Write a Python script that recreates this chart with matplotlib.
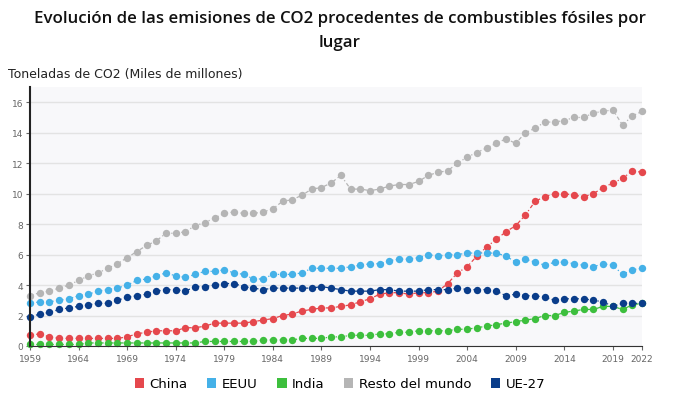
import numpy as np
import matplotlib
matplotlib.use("Agg")
import matplotlib.pyplot as plt
from matplotlib.patches import Patch

years = list(range(1959, 2023))

china = [0.7, 0.8, 0.6, 0.5, 0.5, 0.5, 0.5, 0.5, 0.5, 0.5,
         0.6, 0.8, 0.9, 1.0, 1.0, 1.0, 1.2, 1.2, 1.3, 1.5,
         1.5, 1.5, 1.5, 1.6, 1.7, 1.8, 2.0, 2.1, 2.3, 2.4,
         2.5, 2.5, 2.6, 2.7, 2.9, 3.1, 3.4, 3.5, 3.5, 3.4,
         3.5, 3.5, 3.6, 4.1, 4.8, 5.2, 5.9, 6.5, 7.0, 7.5,
         7.9, 8.6, 9.5, 9.8, 10.0, 10.0, 9.9, 9.8, 10.0, 10.4,
         10.7, 11.0, 11.5, 11.4]
eeuu = [2.8, 2.9, 2.9, 3.0, 3.1, 3.3, 3.4, 3.6, 3.7, 3.8,
        4.0, 4.3, 4.4, 4.6, 4.8, 4.6, 4.5, 4.7, 4.9, 4.9,
        5.0, 4.8, 4.7, 4.4, 4.4, 4.7, 4.7, 4.7, 4.8, 5.1,
        5.1, 5.1, 5.1, 5.2, 5.3, 5.4, 5.4, 5.6, 5.7, 5.7,
        5.8, 6.0, 5.9, 6.0, 6.0, 6.1, 6.1, 6.1, 6.1, 5.9,
        5.5, 5.7, 5.5, 5.3, 5.5, 5.5, 5.4, 5.3, 5.2, 5.4,
        5.3, 4.7, 5.0, 5.1]
india = [0.1, 0.1, 0.1, 0.1, 0.1, 0.1, 0.2, 0.2, 0.2, 0.2,
         0.2, 0.2, 0.2, 0.2, 0.2, 0.2, 0.2, 0.2, 0.3, 0.3,
         0.3, 0.3, 0.3, 0.3, 0.4, 0.4, 0.4, 0.4, 0.5, 0.5,
         0.5, 0.6, 0.6, 0.7, 0.7, 0.7, 0.8, 0.8, 0.9, 0.9,
         1.0, 1.0, 1.0, 1.0, 1.1, 1.1, 1.2, 1.3, 1.4, 1.5,
         1.6, 1.7, 1.8, 2.0, 2.0, 2.2, 2.3, 2.4, 2.4, 2.6,
         2.6, 2.4, 2.7, 2.8]
resto = [3.3, 3.5, 3.6, 3.8, 4.0, 4.3, 4.6, 4.8, 5.1, 5.4,
         5.8, 6.2, 6.6, 6.9, 7.4, 7.4, 7.5, 7.9, 8.1, 8.4,
         8.7, 8.8, 8.7, 8.7, 8.8, 9.0, 9.5, 9.6, 9.9, 10.3,
         10.4, 10.7, 11.2, 10.3, 10.3, 10.2, 10.3, 10.5, 10.6, 10.6,
         10.8, 11.2, 11.4, 11.5, 12.0, 12.4, 12.7, 13.0, 13.3, 13.6,
         13.3, 14.0, 14.3, 14.7, 14.7, 14.8, 15.0, 15.0, 15.3, 15.4,
         15.5, 14.5, 15.1, 15.4]
ue27 = [1.9, 2.1, 2.2, 2.4, 2.5, 2.6, 2.7, 2.8, 2.8, 3.0,
        3.2, 3.3, 3.4, 3.6, 3.7, 3.7, 3.6, 3.9, 3.9, 4.0,
        4.1, 4.1, 3.9, 3.8, 3.7, 3.8, 3.8, 3.8, 3.8, 3.8,
        3.9, 3.8, 3.7, 3.6, 3.6, 3.6, 3.7, 3.7, 3.6, 3.6,
        3.6, 3.7, 3.7, 3.7, 3.8, 3.7, 3.7, 3.7, 3.6, 3.3,
        3.4, 3.3, 3.3, 3.2, 3.0, 3.1, 3.1, 3.1, 3.0, 2.9,
        2.6, 2.8, 2.8, 2.8]

names = ["China", "EEUU", "India", "Resto del mundo", "UE-27"]
series = [china, eeuu, india, resto, ue27]
colors = ["#e5484d", "#45b1e8", "#3dbf3d", "#b5b5b5", "#0a3d8a"]

xticks = [1959, 1964, 1969, 1974, 1979, 1984, 1989, 1994, 1999, 2004, 2009, 2014, 2019, 2022]

fig = plt.figure(figsize=(6.8, 4.1), dpi=100)
ax = fig.add_axes([30/680, 1 - 347/410, 612/680, 259/410])
ax.set_facecolor("#f8f8fa")

for vals, c in zip(series, colors):
    ax.plot(years, vals, color=c, linestyle=(0, (3, 2, 1, 2)), linewidth=0.9,
            marker="o", markersize=5.3, markeredgewidth=0, clip_on=False)

ax.set_xlim(1959, 2022)
ax.set_ylim(0, 17)
ax.set_yticks(range(0, 17, 2))
ax.set_xticks(xticks)
ax.grid(axis="y", color="#e3e3e3", linewidth=1)
ax.set_axisbelow(True)
for s in ["top", "right"]:
    ax.spines[s].set_visible(False)
ax.spines["left"].set_color("#222222")
ax.spines["left"].set_linewidth(1.5)
ax.spines["bottom"].set_color("#333333")
ax.tick_params(axis="y", length=3, width=0.8, colors="#666666", labelsize=6.5, pad=2)
ax.tick_params(axis="x", length=3, width=0.8, colors="#666666", labelsize=6.5, pad=3)

# title in two lines, like the reference
title_kw = dict(ha="center", va="center", fontsize=12.2, color="#111111",
                family=["Open Sans", "DejaVu Sans"], weight="semibold")
fig.text(0.5, 1 - 19/410, "Evolución de las emisiones de CO2 procedentes de combustibles fósiles por",
         **title_kw)
fig.text(0.5, 1 - 43/410, "lugar", **title_kw)
fig.text(8/680, 1 - 75/410, "Toneladas de CO2 (Miles de millones)", ha="left", va="center",
         fontsize=9, color="#222222")

handles = [Patch(facecolor=c, edgecolor="none") for c in colors]
fig.legend(handles, names, loc="center", bbox_to_anchor=(0.5, 1 - 385/410), ncol=5,
           frameon=False, fontsize=9.5, handlelength=0.7, handleheight=0.7,
           handletextpad=0.4, columnspacing=1.5)

fig.savefig("out.png", dpi=100)
